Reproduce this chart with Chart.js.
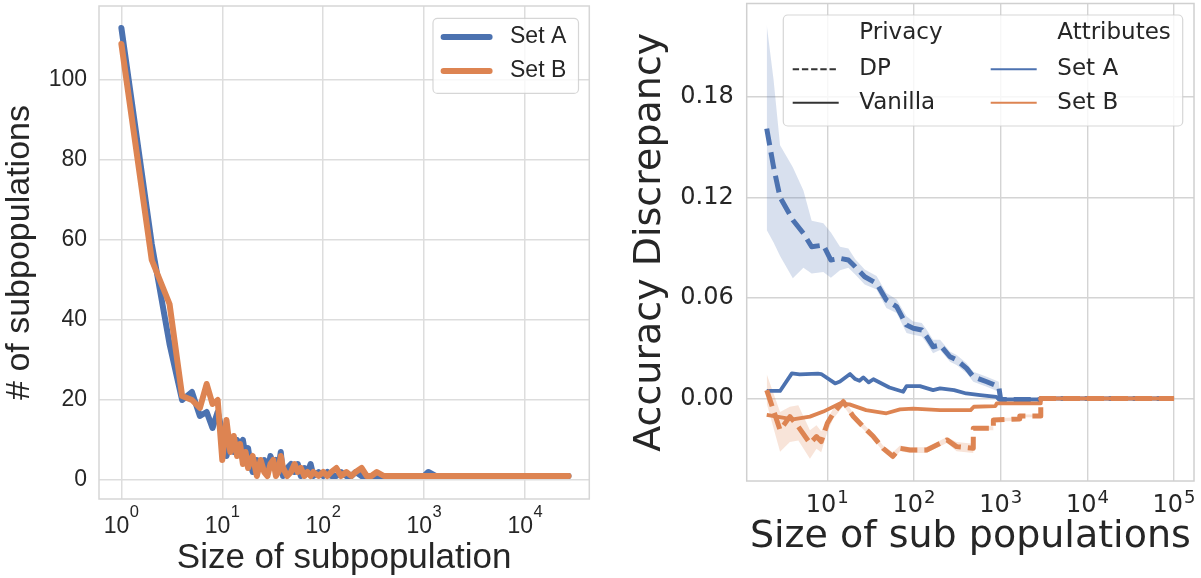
<!DOCTYPE html>
<html>
<head>
<meta charset="utf-8">
<script src="https://cdn.jsdelivr.net/npm/chart.js@4.4.0/dist/chart.umd.min.js"></script>
<style>
body { margin: 0; background: #fff; }
#left { position: absolute; left: 0; top: 0; }
#right { position: absolute; left: 600px; top: 0; }
</style>
</head>
<body>
<canvas id="left" width="600" height="578"></canvas>
<canvas id="right" width="601" height="578"></canvas>
<script>
// ---------------- left panel: number of subpopulations per size ----------------
let sizes = [1, 2, 3, 4, 5, 6, 7, 8, 9, 10, 11, 12, 13, 14, 15, 16, 17, 18, 19, 20,
  22, 24, 26, 28, 30, 32, 34, 36, 38, 40, 44, 48, 52, 56, 60, 65, 70, 75, 80, 90,
  100, 110, 120, 135, 150, 170, 190, 210, 240, 270, 300, 340, 400, 500, 700, 1000, 1100, 1300, 2000, 5000,
  10000, 27000];
let countA = [113, 59, 34, 20, 22, 16, 17, 13, 17, 12, 6, 10, 7, 10, 9, 10, 6, 8, 4, 2,
  5, 3, 5, 2, 6, 4, 5, 3, 7, 1, 3, 4, 2, 4, 1, 3, 2, 4, 1, 2,
  1, 2, 1, 1, 2, 1, 1, 2, 1, 1, 1, 1, 1, 1, 1, 1, 2, 1, 1, 1,
  1, 1];
let countB = [109, 55, 44, 21, 20, 18, 24, 19, 20, 5, 15, 7, 11, 6, 9, 4, 7, 3, 5, 6,
  1, 5, 2, 1, 4, 5, 1, 2, 6, 3, 1, 2, 4, 2, 3, 1, 2, 1, 2, 1,
  2, 1, 2, 3, 1, 2, 1, 2, 3, 1, 1, 2, 1, 1, 1, 1, 1, 1, 1, 1,
  1, 1];
let leftXTicks = [1, 10, 100, 1000, 10000];
let leftYTicks = [0, 20, 40, 60, 80, 100];

// ---------------- right panel: accuracy discrepancy ----------------
let rightXTicks = [10, 100, 1000, 10000, 100000];
let rightYTicks = [0, 0.06, 0.12, 0.18];

// Set A, DP (mean + band)
let aDpX = [2, 2.4, 2.85, 4, 5.3, 6.6, 9, 11, 14, 17.5, 21, 27, 37, 48, 63, 82, 98, 123, 140, 166,
  200, 260, 310, 405, 483, 690, 950, 1000, 2900, 2900, 100000];
let aDpY = [0.161, 0.138, 0.120, 0.1065, 0.0985, 0.0905, 0.0915, 0.0826, 0.0836, 0.0826, 0.0786, 0.0726, 0.0687, 0.0587, 0.0548, 0.0438, 0.0419, 0.0409, 0.0369, 0.0309,
  0.0319, 0.0249, 0.0230, 0.018, 0.013, 0.010, 0.007, -0.0006, -0.0006, 0, 0];
let aDpHi = [0.2228, 0.19, 0.151, 0.138, 0.124, 0.106, 0.1045, 0.099, 0.0905, 0.0895, 0.083, 0.077, 0.073, 0.063, 0.059, 0.049, 0.046, 0.045, 0.041, 0.035,
  0.035, 0.028, 0.026, 0.021, 0.016, 0.013, 0.010, 0.0, 0.0, 0, 0];
let aDpLo = [0.1005, 0.093, 0.085, 0.0718, 0.078, 0.0745, 0.0755, 0.072, 0.0765, 0.078, 0.074, 0.068, 0.065, 0.054, 0.051, 0.039, 0.038, 0.037, 0.033, 0.027,
  0.029, 0.022, 0.020, 0.015, 0.010, 0.007, 0.004, -0.0012, -0.0012, 0, 0];

// Set B, DP (mean + band)
let bDpX = [2, 2.85, 3.7, 4.63, 6.3, 7.5, 8.5, 10, 11.7, 15.3, 20, 26, 34, 44, 57, 69, 90, 140, 200, 240,
  310, 483, 483, 823, 823, 1660, 1660, 2900, 2900, 100000];
let bDpY = [0.005, -0.0188, -0.0108, -0.0168, -0.0267, -0.0227, -0.0257, -0.0148, -0.0088, -0.0019, -0.0108, -0.0168, -0.0227, -0.0297, -0.0345, -0.0297, -0.0307, -0.0307, -0.0267, -0.0247,
  -0.0287, -0.0297, -0.0178, -0.0178, -0.0128, -0.0122, -0.0104, -0.0104, 0, 0];
let bDpHi = [0.0145, -0.008, -0.0049, -0.004, -0.019, -0.016, -0.0196, -0.0124, -0.006, 0.0005, -0.009, -0.015, -0.021, -0.028, -0.032, -0.028, -0.029, -0.029, -0.025, -0.023,
  -0.026, -0.027, -0.0165, -0.0165, -0.0118, -0.0112, -0.0096, -0.0096, 0, 0];
let bDpLo = [-0.003, -0.0317, -0.026, -0.025, -0.036, -0.03, -0.032, -0.02, -0.012, -0.0045, -0.0125, -0.0185, -0.0245, -0.0315, -0.0365, -0.0315, -0.0325, -0.0325, -0.0285, -0.0265,
  -0.0315, -0.0325, -0.019, -0.019, -0.0138, -0.0132, -0.0112, -0.0112, 0, 0];

// Set A, Vanilla
let aVaX = [2, 2.85, 3.9, 4.8, 7.8, 8.5, 12.3, 14, 18.3, 21, 23.5, 26, 30, 34, 52, 75, 82, 117, 166, 200,
  290, 400, 580, 890, 950, 2900, 2900, 100000];
let aVaY = [0.0045, 0.0045, 0.015, 0.0144, 0.0148, 0.0146, 0.009, 0.0101, 0.0146, 0.0116, 0.0106, 0.0126, 0.0096, 0.0115, 0.0066, 0.004, 0.0074, 0.0074, 0.005, 0.006,
  0.005, 0.003, 0.002, 0.001, -0.0006, -0.0006, 0, 0];

// Set B, Vanilla
let bVaX = [2, 4, 6.3, 9, 14, 18, 28, 48, 69, 98, 200, 450, 490, 870, 900, 2900, 2900, 100000];
let bVaY = [-0.0098, -0.0124, -0.0108, -0.0078, -0.0029, -0.0035, -0.0069, -0.0088, -0.0065, -0.006, -0.0069, -0.0069, -0.0049, -0.0045, -0.0029, -0.0029, 0, 0];

let seriesNames = ['Set A', 'Set B'];
let privacyNames = ['DP', 'Vanilla'];

// -------------------------------------------------------------------------------
const blue = '#4c72b0';
const orange = '#dd8452';
const ink = '#262626';

let pts = (xs, ys) => xs.map((x, i) => ({x: x, y: ys[i]}));

// forces an axis to a fixed thickness and drops the label overflow padding
let fixSize = (prop, px) => s => {
  s[prop] = px;
  s.paddingTop = 0; s.paddingBottom = 0; s.paddingLeft = 0; s.paddingRight = 0;
};

// light grey box around the plot area (seaborn whitegrid spines)
let makeFrame = (color, width) => ({
  id: 'frame',
  beforeDatasetsDraw(chart) {
    let ctx = chart.ctx, a = chart.chartArea;
    ctx.save();
    ctx.strokeStyle = color;
    ctx.lineWidth = width;
    ctx.strokeRect(a.left, a.top, a.right - a.left, a.bottom - a.top);
    ctx.restore();
  }
});

// "10" with a raised exponent under each log tick
let makePowLabels = (o) => ({
  id: 'powLabels',
  afterDraw(chart) {
    let ctx = chart.ctx, sc = chart.scales.x, bottom = chart.chartArea.bottom;
    ctx.save();
    ctx.fillStyle = ink;
    ctx.textBaseline = 'alphabetic';
    ctx.textAlign = 'left';
    sc.ticks.forEach(t => {
      let px = sc.getPixelForValue(t.value);
      let exp = String(Math.round(Math.log10(t.value)));
      ctx.font = o.size + "px '" + o.family + "'";
      let w1 = ctx.measureText('10').width;
      ctx.font = o.supSize + "px '" + o.family + "'";
      let w2 = ctx.measureText(exp).width;
      let x0 = px - (w1 + o.gap + w2) / 2;
      ctx.font = o.size + "px '" + o.family + "'";
      ctx.fillText('10', x0, bottom + o.base);
      ctx.font = o.supSize + "px '" + o.family + "'";
      ctx.fillText(exp, x0 + w1 + o.gap, bottom + o.sup);
    });
    ctx.restore();
  }
});

// legend box in the upper right corner of the plot area
let makeLegend = (o) => ({
  id: 'boxLegend',
  afterDatasetsDraw(chart) {
    let ctx = chart.ctx, a = chart.chartArea;
    let x = a.right - o.padR - o.w, y = a.top + o.padT;
    ctx.save();
    ctx.beginPath();
    ctx.roundRect(x, y, o.w, o.h, 4.5);
    ctx.fillStyle = 'rgba(255,255,255,0.8)';
    ctx.fill();
    ctx.strokeStyle = 'rgba(204,204,204,0.8)';
    ctx.lineWidth = 1.2;
    ctx.stroke();
    ctx.font = o.font;
    ctx.textBaseline = 'middle';
    ctx.textAlign = 'left';
    o.items.forEach(it => {
      let cy = y + it.dy;
      if (it.color) {
        ctx.beginPath();
        ctx.strokeStyle = it.color;
        ctx.lineWidth = it.width;
        ctx.lineCap = it.cap || 'butt';
        ctx.setLineDash(it.dash || []);
        ctx.moveTo(x + it.dx, cy);
        ctx.lineTo(x + it.dx + o.handle, cy);
        ctx.stroke();
        ctx.setLineDash([]);
      }
      ctx.fillStyle = ink;
      ctx.fillText(it.label, x + it.tx, cy);
    });
    ctx.restore();
  }
});

// ---------------- left chart ----------------
let lineStyle = (color, order) => ({
  borderColor: color, borderWidth: 6, pointRadius: 0, fill: false,
  borderCapStyle: 'round', borderJoinStyle: 'round', order: order
});

new Chart(document.getElementById('left'), {
  type: 'line',
  data: {
    datasets: [
      Object.assign({label: seriesNames[0], data: pts(sizes, countA)}, lineStyle(blue, 2)),
      Object.assign({label: seriesNames[1], data: pts(sizes, countB)}, lineStyle(orange, 1))
    ]
  },
  options: {
    responsive: false,
    animation: false,
    devicePixelRatio: 1,
    layout: {padding: {top: 6, right: 10.7, left: 0, bottom: 0}},
    plugins: {legend: {display: false}, tooltip: {enabled: false}},
    scales: {
      x: {
        type: 'logarithmic',
        min: Math.pow(10, -0.218),
        max: Math.pow(10, 4.637),
        afterBuildTicks: s => { s.ticks = leftXTicks.map(v => ({value: v})); },
        afterFit: fixSize('height', 79),
        ticks: {display: false},
        grid: {color: '#dddddd', lineWidth: 1.5, drawTicks: false},
        border: {display: false},
        title: {display: true, text: 'Size of subpopulation', color: ink,
          font: {family: 'Liberation Sans', size: 35, lineHeight: 1}, padding: {top: 0, bottom: 2.5}}
      },
      y: {
        type: 'linear',
        min: -4.75,
        max: 118.5,
        afterBuildTicks: s => { s.ticks = leftYTicks.map(v => ({value: v})); },
        afterFit: fixSize('width', 99),
        ticks: {color: ink, padding: 12, font: {family: 'Liberation Sans', size: 23}, callback: v => String(v)},
        grid: {color: '#dddddd', lineWidth: 1.5, drawTicks: false},
        border: {display: false},
        title: {display: true, text: '# of subpopulations', color: ink,
          font: {family: 'Liberation Sans', size: 34, lineHeight: 1}, padding: {top: 3, bottom: 0}}
      }
    }
  },
  plugins: [
    makeFrame('#d6d6d6', 1.5),
    makeLegend({
      w: 145.5, h: 75, padR: 10.8, padT: 12.4, handle: 46, font: "23px 'Liberation Sans'",
      items: [
        {label: seriesNames[0], color: blue, width: 6, cap: 'round', dx: 10.6, tx: 77, dy: 18.6},
        {label: seriesNames[1], color: orange, width: 6, cap: 'round', dx: 10.6, tx: 77, dy: 52.6}
      ]
    }),
    makePowLabels({family: 'Liberation Sans', size: 23, supSize: 16.5, gap: 0.5, base: 34.3, sup: 17.7})
  ]
});

// ---------------- right chart ----------------
let band = (xs, ys, color, fill) => ({
  data: pts(xs, ys), borderColor: 'transparent', borderWidth: 0, pointRadius: 0,
  backgroundColor: color, fill: fill, order: 10
});
let meanLine = (label, xs, ys, color, dashed, order) => ({
  label: label, data: pts(xs, ys), borderColor: color, pointRadius: 0, fill: false,
  borderWidth: dashed ? 5 : 3.8, borderDash: dashed ? [17, 7] : [],
  borderJoinStyle: 'round', order: order
});

new Chart(document.getElementById('right'), {
  type: 'line',
  data: {
    datasets: [
      band(aDpX, aDpHi, 'rgba(76,114,176,0.22)', '+1'),
      band(aDpX, aDpLo, 'rgba(76,114,176,0.22)', false),
      band(bDpX, bDpHi, 'rgba(221,132,82,0.22)', '+1'),
      band(bDpX, bDpLo, 'rgba(221,132,82,0.22)', false),
      meanLine(seriesNames[0] + ' DP', aDpX, aDpY, blue, true, 4),
      meanLine(seriesNames[0] + ' Vanilla', aVaX, aVaY, blue, false, 3),
      meanLine(seriesNames[1] + ' DP', bDpX, bDpY, orange, true, 2),
      meanLine(seriesNames[1] + ' Vanilla', bVaX, bVaY, orange, false, 1)
    ]
  },
  options: {
    responsive: false,
    animation: false,
    devicePixelRatio: 1,
    layout: {padding: {top: 3.5, right: 7, left: 0, bottom: 0}},
    plugins: {legend: {display: false}, tooltip: {enabled: false}},
    scales: {
      x: {
        type: 'logarithmic',
        min: Math.pow(10, 0.07),
        max: Math.pow(10, 5.23),
        afterBuildTicks: s => { s.ticks = rightXTicks.map(v => ({value: v})); },
        afterFit: fixSize('height', 97),
        ticks: {display: false},
        grid: {color: '#d4d4d4', lineWidth: 1.4, drawTicks: false},
        border: {display: false},
        title: {display: true, text: 'Size of sub populations', color: ink,
          font: {family: 'DejaVu Sans', size: 38, lineHeight: 1}, padding: {top: 0, bottom: 21.4}}
      },
      y: {
        type: 'linear',
        min: -0.0492,
        max: 0.2356,
        afterBuildTicks: s => { s.ticks = rightYTicks.map(v => ({value: v})); },
        afterFit: fixSize('width', 146.7),
        ticks: {color: ink, padding: 13, font: {family: 'DejaVu Sans', size: 24}, callback: v => v.toFixed(2)},
        grid: {color: '#d4d4d4', lineWidth: 1.4, drawTicks: false},
        border: {display: false},
        title: {display: true, text: 'Accuracy Discrepancy', color: ink,
          font: {family: 'DejaVu Sans', size: 38, lineHeight: 1}, padding: {top: 31, bottom: 0}}
      }
    }
  },
  plugins: [
    makeFrame('#d0d0d0', 1.5),
    makeLegend({
      w: 399.4, h: 111, padR: 11.3, padT: 11.5, handle: 46, font: "23px 'DejaVu Sans'",
      items: [
        {label: 'Privacy', tx: 76, dy: 18.3},
        {label: privacyNames[0], color: '#333333', width: 2, dash: [6.4, 2.8], dx: 9.4, tx: 76, dy: 54.3},
        {label: privacyNames[1], color: '#333333', width: 2, dx: 9.4, tx: 76, dy: 87.7},
        {label: 'Attributes', tx: 274, dy: 18.3},
        {label: seriesNames[0], color: blue, width: 2, dx: 207.4, tx: 274, dy: 54.3},
        {label: seriesNames[1], color: orange, width: 2, dx: 207.4, tx: 274, dy: 87.7}
      ]
    }),
    makePowLabels({family: 'DejaVu Sans', size: 24, supSize: 18, gap: 1, base: 30.7, sup: 22})
  ]
});
</script>
</body>
</html>
